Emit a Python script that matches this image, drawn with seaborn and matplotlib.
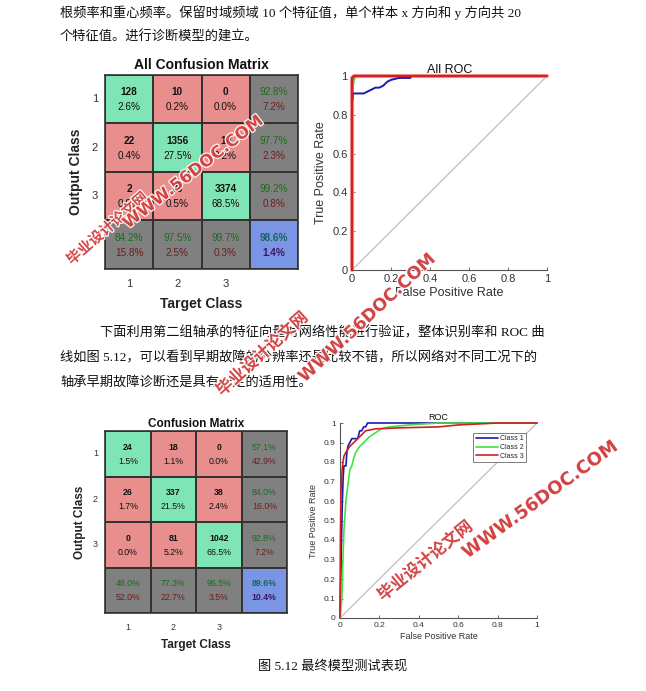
import matplotlib
matplotlib.use('Agg')
import numpy as np
import pandas as pd
import seaborn as sns
import matplotlib.pyplot as plt
from matplotlib.colors import ListedColormap
import matplotlib.patheffects as pe

# ---------------- data ----------------
classes = ['1', '2', '3']
cm_all = np.array([[128, 10, 0],
                   [22, 1356, 10],
                   [2, 25, 3374]])
cm_test = np.array([[24, 18, 0],
                    [26, 337, 38],
                    [0, 81, 1042]])

# All ROC (first figure)
roc1_c1_fpr = [0, 0, 0.005, 0.02, 0.06, 0.08, 0.10, 0.12, 0.14, 0.16, 0.18, 0.20, 0.24, 0.30]
roc1_c1_tpr = [0, 0.86, 0.91, 0.91, 0.91, 0.92, 0.93, 0.94, 0.94, 0.95, 0.97, 0.98, 0.99, 0.99]
roc1_c2_fpr = [0, 0, 0.005, 0.01, 0.02, 1.0]
roc1_c2_tpr = [0, 0.90, 0.95, 0.98, 1.0, 1.0]
roc1_c3_fpr = [0, 0, 0.01, 1.0]
roc1_c3_tpr = [0, 0.99, 1.0, 1.0]

# test ROC (second figure)
roc2_c1_fpr = [0, 0.004, 0.008, 0.012, 0.016, 0.02, 0.03, 0.035, 0.04, 0.05, 0.06, 0.09, 0.10, 0.11, 0.12, 0.13, 0.14, 1.0]
roc2_c1_tpr = [0, 0.20, 0.42, 0.60, 0.72, 0.78, 0.78, 0.85, 0.88, 0.90, 0.92, 0.92, 0.96, 0.96, 0.98, 0.98, 1.0, 1.0]
roc2_c2_fpr = [0, 0.01, 0.015, 0.02, 0.03, 0.04, 0.05, 0.06, 0.07, 0.08, 0.10, 0.12, 0.15, 0.18, 0.21, 0.25, 0.35, 0.50, 1.0]
roc2_c2_tpr = [0, 0.10, 0.30, 0.45, 0.60, 0.68, 0.76, 0.78, 0.82, 0.85, 0.88, 0.90, 0.93, 0.95, 0.97, 0.98, 0.99, 1.0, 1.0]
roc2_c3_fpr = [0, 0.002, 0.005, 0.01, 0.015, 0.02, 0.03, 0.05, 0.08, 0.10, 0.13, 0.18, 0.30, 0.50, 0.60, 0.80, 1.0]
roc2_c3_tpr = [0, 0.40, 0.65, 0.75, 0.80, 0.83, 0.85, 0.88, 0.91, 0.93, 0.96, 0.97, 0.975, 0.98, 0.99, 1.0, 1.0]

text_top = ['根频率和重心频率。保留时域频域 10 个特征值，单个样本 x 方向和 y 方向共 20',
            '个特征值。进行诊断模型的建立。']
text_mid = ['下面利用第二组轴承的特征向量对网络性能进行验证，整体识别率和 ROC 曲',
            '线如图 5.12，可以看到早期故障的分辨率还是比较不错，所以网络对不同工况下的',
            '轴承早期故障诊断还是具有一定的适用性。']
caption = '图 5.12 最终模型测试表现'
wm_cn = '毕业设计论文网'
wm_en = 'WWW.56DOC.COM'

# ---------------- style ----------------
sns.set_theme(style='white')
plt.rcParams['font.family'] = ['Liberation Sans', 'Noto Sans CJK SC', 'DejaVu Sans']

GREEN = '#80E5B6'
RED = '#E88F8E'
GRAY = '#808080'
BLUE = '#7A95E4'
TXT_G = '#1E6A1E'
TXT_R = '#6E1E1E'

W, H = 646, 691
fig = plt.figure(figsize=(W / 100, H / 100), dpi=100)
fig.patch.set_facecolor('white')


def ax_px(l, t, w, h):
    return fig.add_axes([l / W, 1 - (t + h) / H, w / W, h / H])


def draw_cm(ax, counts, title, fs_title, fs_cell, fs_lab, fs_tick, tpad, xlp, ylp):
    codes = np.full((4, 4), 2)
    for i in range(3):
        for j in range(3):
            codes[i, j] = 0 if i == j else 1
    codes[3, 3] = 3
    sns.heatmap(codes, cmap=ListedColormap([GREEN, RED, GRAY, BLUE]), vmin=-0.5, vmax=3.5,
                cbar=False, linewidths=1.2, linecolor='#333333', ax=ax)
    total = counts.sum()
    for i in range(3):
        for j in range(3):
            ax.text(j + 0.5, i + 0.36, str(counts[i, j]), ha='center', va='center',
                    fontsize=fs_cell, fontweight='bold', color='#111111')
            ax.text(j + 0.5, i + 0.66, f'{100 * counts[i, j] / total:.1f}%', ha='center',
                    va='center', fontsize=fs_cell, color='#111111')
    for i in range(3):
        p = 100 * counts[i, i] / counts[i].sum()
        ax.text(3.5, i + 0.36, f'{p:.1f}%', ha='center', va='center', fontsize=fs_cell, color=TXT_G)
        ax.text(3.5, i + 0.66, f'{100 - p:.1f}%', ha='center', va='center', fontsize=fs_cell, color=TXT_R)
    for j in range(3):
        p = 100 * counts[j, j] / counts[:, j].sum()
        ax.text(j + 0.5, 3.36, f'{p:.1f}%', ha='center', va='center', fontsize=fs_cell, color=TXT_G)
        ax.text(j + 0.5, 3.66, f'{100 - p:.1f}%', ha='center', va='center', fontsize=fs_cell, color=TXT_R)
    p = 100 * np.trace(counts) / total
    ax.text(3.5, 3.36, f'{p:.1f}%', ha='center', va='center', fontsize=fs_cell,
            fontweight='bold', color='#14665A')
    ax.text(3.5, 3.66, f'{100 - p:.1f}%', ha='center', va='center', fontsize=fs_cell,
            fontweight='bold', color='#3E1466')
    ax.set_xticks([0.5, 1.5, 2.5])
    ax.set_xticklabels(classes, fontsize=fs_tick, color='#333333')
    ax.set_yticks([0.5, 1.5, 2.5])
    ax.set_yticklabels(classes, fontsize=fs_tick, color='#333333', rotation=0)
    ax.tick_params(length=0, pad=7)
    ax.tick_params(axis='y', pad=5)
    ax.set_xlabel('Target Class', fontsize=fs_lab, fontweight='bold', labelpad=xlp, color='#222222')
    ax.set_ylabel('Output Class', fontsize=fs_lab, fontweight='bold', labelpad=ylp, color='#222222')
    ax.set_title(title, fontsize=fs_title, fontweight='bold', pad=tpad, color='#111111')
    for s in ax.spines.values():
        s.set_visible(True)
        s.set_color('#333333')
        s.set_linewidth(1.2)


def draw_roc(ax, curves, palette, lws, title, fs_title, fs_tick, fs_lab, yticks, legend):
    frames = []
    for name, (fx, ty) in curves.items():
        frames.append(pd.DataFrame({'fpr': fx, 'tpr': ty, 'cls': name}))
    df = pd.concat(frames, ignore_index=True)
    ax.plot([0, 1], [0, 1], color='#C4C4C4', lw=1.0, zorder=1)
    for name in curves:
        sub = df[df['cls'] == name]
        if lws[name] > 1.6:
            sns.lineplot(data=sub, x='fpr', y='tpr', sort=False, estimator=None, ax=ax,
                         color='#F6B4B4', lw=lws[name] + 1.2, legend=False, zorder=2)
        sns.lineplot(data=sub, x='fpr', y='tpr', sort=False, estimator=None, ax=ax,
                     color=palette[name], lw=lws[name], label=name if legend else None,
                     legend=False, zorder=3)
    for ln in ax.lines:
        ln.set_clip_on(False)
    ax.set_xlim(0, 1)
    ax.set_ylim(0, 1)
    ax.set_xticks([0, 0.2, 0.4, 0.6, 0.8, 1.0])
    ax.set_xticklabels(['0', '0.2', '0.4', '0.6', '0.8', '1'], fontsize=fs_tick, color='#333333')
    ax.set_yticks(yticks)
    ax.set_yticklabels([f'{v:g}' for v in yticks], fontsize=fs_tick, color='#333333')
    ax.tick_params(direction='in', length=2, width=0.6, color='#555555', pad=3,
                   bottom=True, left=True)
    ax.set_xlabel('False Positive Rate', fontsize=fs_lab, color='#333333', labelpad=2)
    ax.set_ylabel('True Positive Rate', fontsize=fs_lab, color='#333333', labelpad=4)
    ax.set_title(title, fontsize=fs_title, color='#111111', pad=2)
    for k in ['top', 'right']:
        ax.spines[k].set_visible(False)
    for k in ['left', 'bottom']:
        ax.spines[k].set_color('#555555')
        ax.spines[k].set_linewidth(0.8)
    ax.set_facecolor('white')
    if legend:
        leg = ax.legend(loc='upper right', bbox_to_anchor=(0.96, 0.965), fontsize=5,
                        frameon=True, fancybox=False, edgecolor='#444444', handlelength=3.2,
                        borderpad=0.3, labelspacing=0.25, handletextpad=0.3)
        leg.get_frame().set_linewidth(0.6)


# ---------------- body text ----------------
body_font = ['Liberation Serif', 'Noto Sans CJK SC']
for k, line in enumerate(text_top):
    fig.text(60 / W, 1 - (13 + 24 * k) / H, line, fontsize=9.5, family=body_font,
             va='center', ha='left', color='#111111')
for k, line in enumerate(text_mid):
    x0 = 100 if k == 0 else 60
    fig.text(x0 / W, 1 - (333 + 24.5 * k) / H, line, fontsize=9.5, family=body_font,
             va='center', ha='left', color='#111111')
fig.text(333 / W, 1 - 666 / H, caption, fontsize=9.5, family=body_font, va='center',
         ha='center', color='#111111')

# ---------------- charts ----------------
ax1 = ax_px(105, 75, 193, 194)
draw_cm(ax1, cm_all, 'All Confusion Matrix', 10, 7.2, 10, 8, 4, 6, 6)

ax2 = ax_px(352, 76, 195, 194)
draw_roc(ax2, {'Class 1': (roc1_c1_fpr, roc1_c1_tpr),
               'Class 2': (roc1_c2_fpr, roc1_c2_tpr),
               'Class 3': (roc1_c3_fpr, roc1_c3_tpr)},
         {'Class 1': '#1A1AB0', 'Class 2': '#3FD63F', 'Class 3': '#D42020'},
         {'Class 1': 1.4, 'Class 2': 1.4, 'Class 3': 1.8},
         'All ROC', 9, 8, 9, [0, 0.2, 0.4, 0.6, 0.8, 1.0], False)

ax3 = ax_px(105, 431, 182, 182)
draw_cm(ax3, cm_test, 'Confusion Matrix', 8.5, 6.3, 8.5, 6.5, 3, 5, 5)

ax4 = ax_px(340, 423, 197, 195)
draw_roc(ax4, {'Class 1': (roc2_c1_fpr, roc2_c1_tpr),
               'Class 2': (roc2_c2_fpr, roc2_c2_tpr),
               'Class 3': (roc2_c3_fpr, roc2_c3_tpr)},
         {'Class 1': '#1A1AB0', 'Class 2': '#44E044', 'Class 3': '#D02020'},
         {'Class 1': 1.2, 'Class 2': 1.2, 'Class 3': 1.2},
         'ROC', 6.5, 6, 6.5, [round(0.1 * i, 1) for i in range(11)], True)

# ---------------- watermarks ----------------
wm_fx = [pe.withStroke(linewidth=1.8, foreground='white')]
wm_items = [
    (wm_cn, 107, 228, 10.5, 41),
    (wm_en, 193, 172, 12, 38),
    (wm_cn, 262, 354, 12, 42),
    (wm_en, 367, 318, 12.5, 43),
    (wm_cn, 425, 561, 12, 39),
    (wm_en, 540, 500, 13, 36),
]
for txt, x, y, fs, rot in wm_items:
    fam = ['Noto Sans CJK SC', 'DejaVu Sans'] if txt == wm_cn else ['DejaVu Sans']
    fig.text(x / W, 1 - y / H, txt, fontsize=fs, fontweight='bold', color='#D23A3A',
             rotation=rot, ha='center', va='center', family=fam, alpha=0.92,
             rotation_mode='anchor', path_effects=wm_fx, zorder=10)

fig.savefig('out.png', dpi=100, facecolor='white')
